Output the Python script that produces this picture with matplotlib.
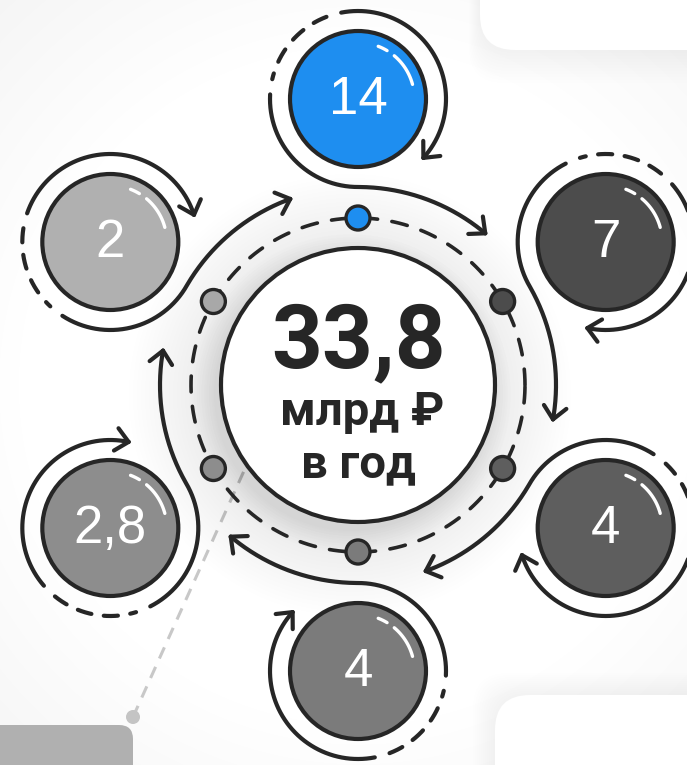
import numpy as np
import matplotlib
matplotlib.use('Agg')
import matplotlib.pyplot as plt
from matplotlib.patches import Circle, FancyBboxPatch

# values in the outer circles, clockwise from the top
values = ['14', '7', '4', '4', '2,8', '2']
angles = [90, 30, -30, -90, -150, 150]
fills = ['#1e8ef0', '#4c4c4c', '#5e5e5e', '#7b7b7b', '#8d8d8d', '#b0b0b0']
dots = ['#1e8ef0', '#4c4c4c', '#5e5e5e', '#7b7b7b', '#8d8d8d', '#a8a8a8']
total = '33,8'
unit_lines = ['млрд ₽', 'в год']

DARK = '#262626'
cx, cy = 358, 385
R_in = 137
R_dash = 167
R_ring = 198
D = 286
r_ball = 68
r_orb = 88
LW = 3.0

fig = plt.figure(figsize=(6.87, 7.65), dpi=100)
ax = fig.add_axes([0, 0, 1, 1])
ax.set_xlim(0, 687)
ax.set_ylim(765, 0)
ax.axis('off')


def arc(x0, y0, r, a0, a1, n=160):
    t = np.radians(np.linspace(a0, a1, n))
    return x0 + r * np.cos(t), y0 - r * np.sin(t)


def head(xs, ys, L=17, spread=42):
    a = np.arctan2(ys[-1] - ys[-2], xs[-1] - xs[-2])
    for s in (spread, -spread):
        b = a + np.pi + np.radians(s)
        ax.plot([xs[-1], xs[-1] + L * np.cos(b)], [ys[-1], ys[-1] + L * np.sin(b)],
                color=DARK, lw=LW, solid_capstyle='round', zorder=5)


# background soft shading
yy, xx = np.mgrid[0:765, 0:687]
dist = np.hypot(xx - cx, yy - cy)
bg = 1 - 0.04 * np.clip((dist - 320) / 200, 0, 1)
ax.imshow(bg, cmap='gray', vmin=0, vmax=1, extent=(0, 687, 765, 0), zorder=0)

# top right and bottom right cards
for k in range(12):
    ax.add_patch(FancyBboxPatch((480 - k, -80), 260 + 2 * k, 130 + 3 * k,
                                boxstyle='round,pad=0,rounding_size=35',
                                fc='black', ec='none', alpha=0.005, zorder=1))
    ax.add_patch(FancyBboxPatch((495 - 2 * k, 695 - 2 * k), 260, 130,
                                boxstyle='round,pad=0,rounding_size=35',
                                fc='black', ec='none', alpha=0.004, zorder=1))
ax.add_patch(FancyBboxPatch((480, -80), 260, 130, boxstyle='round,pad=0,rounding_size=35',
                            fc='white', ec='none', zorder=1.5))
ax.add_patch(FancyBboxPatch((495, 695), 260, 130, boxstyle='round,pad=0,rounding_size=35',
                            fc='white', ec='none', zorder=1.5))

# bottom left grey tab with dashed leader
ax.add_patch(FancyBboxPatch((-40, 725), 173, 80, boxstyle='round,pad=0,rounding_size=14',
                            fc='#b0b0b0', ec='none', zorder=2))
ax.plot([133, 248], [717, 462], color='#c8c8c8', lw=2.2, ls=(0, (4, 3)), zorder=2)
ax.add_patch(Circle((133, 717), 7, fc='#c4c4c4', ec='none', zorder=2))

# glow / shadow around the centre
for k in range(22):
    ax.add_patch(Circle((cx - 8, cy + 10), R_in + 4 * k, fc='black', ec='none',
                        alpha=0.0035, zorder=2))
for k in range(10):
    ax.add_patch(Circle((cx - 7, cy + 9), R_in + 2.5 * k, fc='black', ec='none',
                        alpha=0.009, zorder=2))

# central dashed ring and dots
xs, ys = arc(cx, cy, R_dash, 0, 360, 400)
ax.plot(xs, ys, color=DARK, lw=2.6, ls=(0, (4.4, 4.0)), dash_capstyle='round', zorder=4)
for ang, c in zip(angles, dots):
    x = cx + R_dash * np.cos(np.radians(ang))
    y = cy - R_dash * np.sin(np.radians(ang))
    ax.add_patch(Circle((x, y), 12, fc=c, ec=DARK, lw=2.4, zorder=6))

# central circle
ax.add_patch(Circle((cx, cy), R_in, fc='white', ec=DARK, lw=LW, zorder=6))
ax.text(cx + 1, 367, total, ha='center', va='baseline', fontsize=64, fontweight='bold',
        family=['Roboto', 'DejaVu Sans'], color=DARK, zorder=7)
ax.text(cx + 4, 425, unit_lines[0], ha='center', va='baseline', fontsize=34, fontweight='bold',
        family=['Roboto', 'DejaVu Sans'], color=DARK, zorder=7)
ax.text(cx, 477, unit_lines[1], ha='center', va='baseline', fontsize=34, fontweight='bold',
        family=['Roboto', 'DejaVu Sans'], color=DARK, zorder=7)

# outer circles with their orbits
for val, ang, c in zip(values, angles, fills):
    ox = cx + D * np.cos(np.radians(ang))
    oy = cy - D * np.sin(np.radians(ang))

    # solid arc over the outside, ending in an arrow
    xs, ys = arc(ox, oy, r_orb, ang + 11, ang - 132)
    ax.plot(xs, ys, color=DARK, lw=LW, solid_capstyle='round', zorder=5)
    head(xs, ys)

    # dashed part
    xs, ys = arc(ox, oy, r_orb, ang + 21, ang + 77)
    ax.plot(xs, ys, color=DARK, lw=LW, ls=(0, (3.4, 3.0)), dash_capstyle='round', zorder=5)

    # solid part that turns into the big ring
    x1, y1 = arc(ox, oy, r_orb, ang + 87, ang + 180)
    x2, y2 = arc(cx, cy, R_ring, ang, ang - 40)
    xs = np.concatenate([x1, x2])
    ys = np.concatenate([y1, y2])
    ax.plot(xs, ys, color=DARK, lw=LW, solid_capstyle='round', zorder=5)
    head(xs, ys)

    # ball
    ax.add_patch(Circle((ox, oy), r_ball, fc=c, ec=DARK, lw=LW, zorder=6))
    hr = r_ball * 0.83
    for a0, a1 in [(69, 59), (50, 15)]:
        hx, hy = arc(ox, oy, hr, a0, a1, 40)
        ax.plot(hx, hy, color='white', lw=2.4, solid_capstyle='round', zorder=7)
    ax.text(ox, oy + 1, val, ha='center', va='center', fontsize=38,
            family=['Liberation Sans', 'DejaVu Sans'], color='white', zorder=7)

fig.savefig('out.png', dpi=100)
